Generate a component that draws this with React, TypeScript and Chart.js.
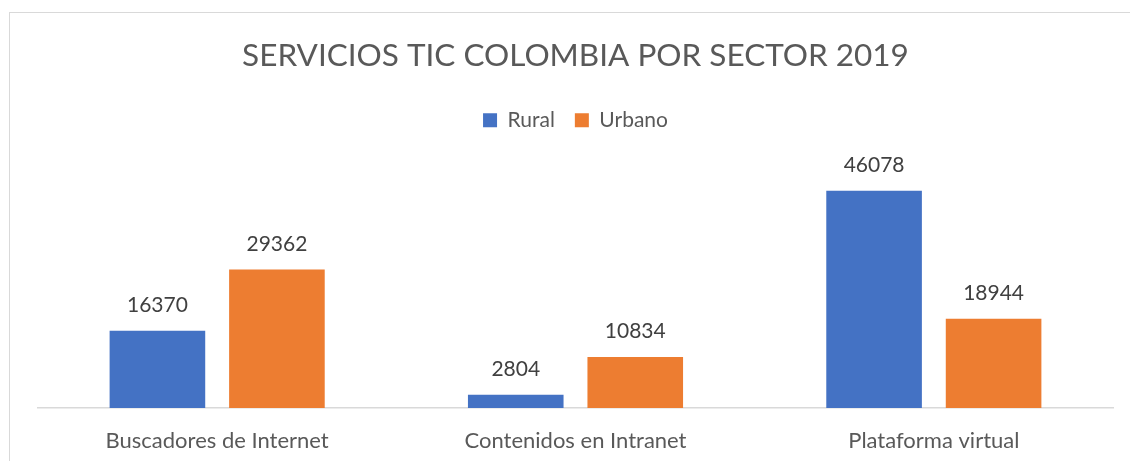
import React, { useEffect, useRef } from "react";
import { Chart, registerables } from "chart.js";

Chart.register(...registerables);

const categories = ["Buscadores de Internet", "Contenidos en Intranet", "Plataforma virtual"];
const rural = [16370, 2804, 46078];
const urbano = [29362, 10834, 18944];
const seriesNames = ["Rural", "Urbano"];
const titleText = "SERVICIOS TIC COLOMBIA POR SECTOR 2019";
const yMax = 50000;

const FONT = "Lato, 'Open Sans', sans-serif";

const dataLabels = {
  id: "dataLabels",
  afterDatasetsDraw(chart: any) {
    const ctx = chart.ctx;
    ctx.save();
    ctx.font = `21px ${FONT}`;
    ctx.fillStyle = "#404040";
    ctx.textAlign = "center";
    ctx.textBaseline = "alphabetic";
    chart.data.datasets.forEach((ds: any, i: number) => {
      const meta = chart.getDatasetMeta(i);
      meta.data.forEach((el: any, j: number) => {
        ctx.fillText(String(ds.data[j]), el.x, el.y - 19);
      });
    });
    ctx.restore();
  },
};

export default function App() {
  const ref = useRef<HTMLCanvasElement>(null);
  useEffect(() => {
    const chart = new Chart(ref.current as HTMLCanvasElement, {
      type: "bar",
      data: {
        labels: categories,
        datasets: [
          { label: seriesNames[0], data: rural, backgroundColor: "#4472C4" },
          { label: seriesNames[1], data: urbano, backgroundColor: "#ED7D31" },
        ],
      },
      options: {
        animation: false,
        responsive: false,
        layout: { padding: { left: 38, right: 17, top: 0, bottom: 0 } },
        datasets: { bar: { categoryPercentage: 0.667, barPercentage: 0.8 } },
        plugins: {
          tooltip: { enabled: false },
          title: {
            display: true,
            text: titleText,
            color: "#595959",
            font: { family: FONT, size: 31.5, weight: "normal" },
            padding: { top: 37, bottom: 15 },
          },
          legend: {
            display: true,
            labels: {
              color: "#595959",
              font: { family: FONT, size: 21 },
              boxWidth: 14,
              boxHeight: 14,
              padding: 20,
            },
          },
        },
        scales: {
          x: {
            grid: { display: false, drawTicks: false },
            border: { display: true, color: "#d9d9d9", width: 1.5 },
            ticks: { color: "#595959", font: { family: FONT, size: 22 }, padding: 20, maxRotation: 0 },
            afterFit: (s: any) => { s.height = 53; },
          },
          x2: {
            type: "category",
            position: "top",
            labels: categories,
            grid: { display: false, drawTicks: false },
            border: { display: false },
            ticks: { display: false },
            afterFit: (s: any) => { s.height = 31.5; },
          },
          y: { display: false, min: 0, max: yMax },
        },
      },
      plugins: [dataLabels],
    } as any);
    return () => chart.destroy();
  }, []);
  return (
    <div style={{ position: "fixed", left: 0, top: 0, width: 1130, height: 461, overflow: "hidden", background: "#fff" }}>
      <div style={{ position: "absolute", left: 9, top: 12, width: 1200, height: 600, border: "1px solid #d9d9d9" }} />
      <canvas ref={ref} width={1130} height={461} style={{ position: "absolute", left: 0, top: 0 }} />
    </div>
  );
}
